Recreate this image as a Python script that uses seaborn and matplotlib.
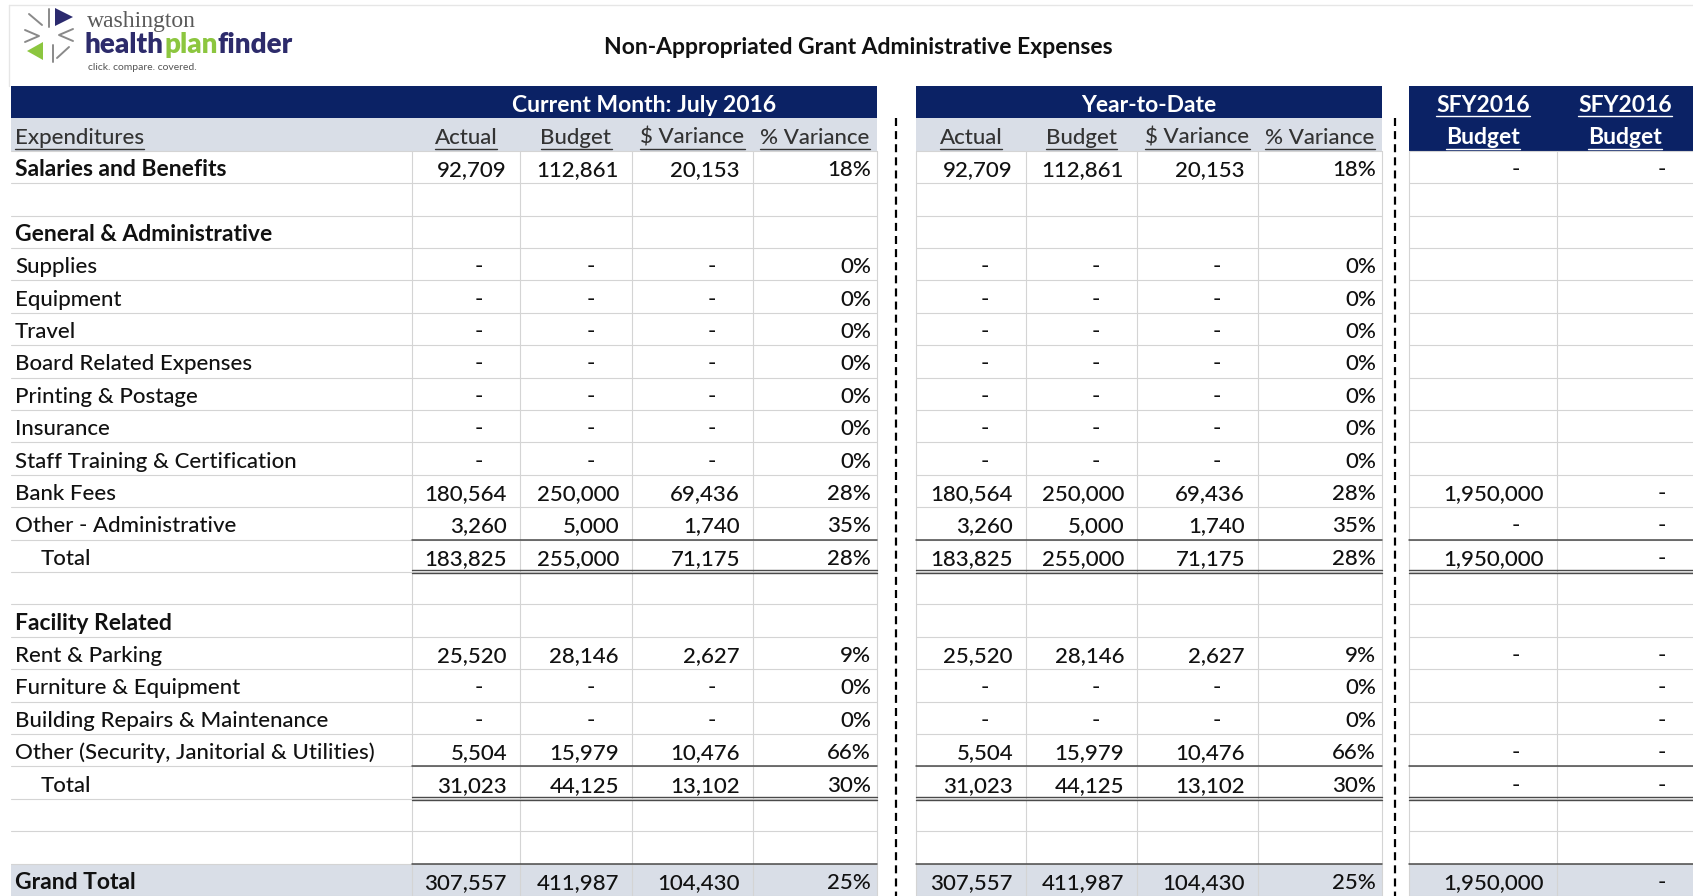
import numpy as np
import pandas as pd
import matplotlib
matplotlib.use("Agg")
import matplotlib.pyplot as plt
from matplotlib.patches import Rectangle, Polygon
import seaborn as sns

# ---- data ----
row_labels = ["Salaries and Benefits", "", "General & Administrative", "Supplies", "Equipment",
              "Travel", "Board Related Expenses", "Printing & Postage", "Insurance",
              "Staff Training & Certification", "Bank Fees", "Other - Administrative", "Total", "",
              "Facility Related", "Rent & Parking", "Furniture & Equipment",
              "Building Repairs & Maintenance", "Other (Security, Janitorial & Utilities)", "Total",
              "", "", "Grand Total"]
bold_rows = [0, 2, 14, 22]
total_rows = [12, 19]
grand_row = 22

N = None
cm_actual = [92709, N, N, 0, 0, 0, 0, 0, 0, 0, 180564, 3260, 183825, N, N, 25520, 0, 0, 5504, 31023, N, N, 307557]
cm_budget = [112861, N, N, 0, 0, 0, 0, 0, 0, 0, 250000, 5000, 255000, N, N, 28146, 0, 0, 15979, 44125, N, N, 411987]
cm_dvar = [20153, N, N, 0, 0, 0, 0, 0, 0, 0, 69436, 1740, 71175, N, N, 2627, 0, 0, 10476, 13102, N, N, 104430]
cm_pvar = [18, N, N, 0, 0, 0, 0, 0, 0, 0, 28, 35, 28, N, N, 9, 0, 0, 66, 30, N, N, 25]

ytd_actual = [92709, N, N, 0, 0, 0, 0, 0, 0, 0, 180564, 3260, 183825, N, N, 25520, 0, 0, 5504, 31023, N, N, 307557]
ytd_budget = [112861, N, N, 0, 0, 0, 0, 0, 0, 0, 250000, 5000, 255000, N, N, 28146, 0, 0, 15979, 44125, N, N, 411987]
ytd_dvar = [20153, N, N, 0, 0, 0, 0, 0, 0, 0, 69436, 1740, 71175, N, N, 2627, 0, 0, 10476, 13102, N, N, 104430]
ytd_pvar = [18, N, N, 0, 0, 0, 0, 0, 0, 0, 28, 35, 28, N, N, 9, 0, 0, 66, 30, N, N, 25]

sfy_budget_1 = [0, N, N, N, N, N, N, N, N, N, 1950000, 0, 1950000, N, N, 0, N, N, 0, 0, N, N, 1950000]
sfy_budget_2 = [0, N, N, N, N, N, N, N, N, N, 0, 0, 0, N, N, 0, 0, 0, 0, 0, N, N, 0]

title = "Non-Appropriated Grant Administrative Expenses"
sub_headers = ["Actual", "Budget", "$ Variance", "% Variance"]

# ---- layout (pixels) ----
W, H = 1693, 896
NAVY = "#0b2265"
GREY_BG = "#d9dee7"
GRID = "#d4d4d4"
RULE = "#4a4a4a"
TXT = "#111111"
left_edge = 11
cm_edges = [412, 520, 632, 753, 877]
ytd_edges = [916, 1026, 1137, 1258, 1382]
sfy_edges = [1409, 1557, 1693]
dash_x = [896, 1395]
top = 86
rh = (H - top) / 25.0
dy = 3.0          # text sits a little below the geometric middle

sns.set_theme(style="white")
plt.rcParams["font.family"] = ["Lato", "DejaVu Sans"]
FS = 16
FSB = 16.5
REG = "medium"

fig = plt.figure(figsize=(W / 100, H / 100), dpi=100)
ax = fig.add_axes([0, 0, 1, 1])
ax.set_xlim(0, W)
ax.set_ylim(H, 0)
ax.axis("off")


def row_top(i):
    # i = 0 -> first data row (two header rows above)
    return top + (i + 2) * rh


def row_mid(i):
    return row_top(i) + rh / 2 + dy


def fmt_num(v):
    if v is None:
        return None
    return "-" if v == 0 else f"{v:,}"


def fmt_pct(v):
    if v is None:
        return None
    return f"{v}%"


underlines = []

# background bands
ax.add_patch(Rectangle((left_edge, top), cm_edges[-1] - left_edge, rh, color=NAVY, lw=0))
ax.add_patch(Rectangle((ytd_edges[0], top), ytd_edges[-1] - ytd_edges[0], rh, color=NAVY, lw=0))
ax.add_patch(Rectangle((sfy_edges[0], top), sfy_edges[-1] - sfy_edges[0], 2 * rh, color=NAVY, lw=0))
for y in [top + rh, row_top(grand_row)]:
    ax.add_patch(Rectangle((left_edge, y), cm_edges[-1] - left_edge, rh, color=GREY_BG, lw=0))
    ax.add_patch(Rectangle((ytd_edges[0], y), ytd_edges[-1] - ytd_edges[0], rh, color=GREY_BG, lw=0))
ax.add_patch(Rectangle((sfy_edges[0], row_top(grand_row)), sfy_edges[-1] - sfy_edges[0], rh,
                       color=GREY_BG, lw=0))

# faint sheet frame
ax.plot([9, W], [5, 5], color="#e6e6e6", lw=1)
ax.plot([9, 9], [5, top], color="#e6e6e6", lw=1)

# light grid
y0, y1 = row_top(0), H
for i in range(len(row_labels) + 1):
    y = row_top(i)
    ax.plot([left_edge, cm_edges[-1]], [y, y], color=GRID, lw=0.8, zorder=1)
    ax.plot([ytd_edges[0], ytd_edges[-1]], [y, y], color=GRID, lw=0.8, zorder=1)
    ax.plot([sfy_edges[0], sfy_edges[-1]], [y, y], color=GRID, lw=0.8, zorder=1)
for x in cm_edges + ytd_edges + sfy_edges[:-1]:
    ax.plot([x, x], [y0, y1], color=GRID, lw=0.8, zorder=1)

# dashed separators
for x in dash_x:
    ax.plot([x, x], [top + rh, H], color="black", lw=1.6, linestyle=(0, (3.6, 2.3)), zorder=3)

# title
ax.text(858, 48, title, ha="center", va="center", fontsize=16.5, fontweight="bold", color=TXT)

# header texts
ax.text((cm_edges[0] + cm_edges[-1]) / 2, top + rh / 2 + dy, "Current Month: July 2016", ha="center",
        va="center", fontsize=FSB, fontweight="bold", color="white")
ax.text((ytd_edges[0] + ytd_edges[-1]) / 2, top + rh / 2 + dy, "Year-to-Date", ha="center",
        va="center", fontsize=FSB, fontweight="bold", color="white")
t = ax.text(15, top + 1.5 * rh + dy, "Expenditures", ha="left", va="center", fontsize=FS,
            fontweight=REG, color="#333333")
underlines.append((t, "#333333"))
for edges in [cm_edges, ytd_edges]:
    for k, lab in enumerate(sub_headers):
        t = ax.text((edges[k] + edges[k + 1]) / 2, top + 1.5 * rh + dy, lab, ha="center", va="center",
                    fontsize=FS, fontweight=REG, color="#333333")
        underlines.append((t, "#333333"))
for k in range(2):
    cx = (sfy_edges[k] + sfy_edges[k + 1]) / 2
    t = ax.text(cx, top + rh / 2 + dy, "SFY2016", ha="center", va="center", fontsize=FSB,
                fontweight="bold", color="white")
    underlines.append((t, "white"))
    t = ax.text(cx, top + 1.5 * rh + dy, "Budget", ha="center", va="center", fontsize=FSB,
                fontweight="bold", color="white")
    underlines.append((t, "white"))

# row labels
for i, lab in enumerate(row_labels):
    if not lab:
        continue
    x = 41 if i in total_rows else 15
    if i in bold_rows:
        ax.text(x, row_mid(i), lab, ha="left", va="center", fontsize=FSB, fontweight="bold", color=TXT)
    else:
        ax.text(x, row_mid(i), lab, ha="left", va="center", fontsize=FS, fontweight=REG, color=TXT)


def put_column(values, x_left, x_right, pct=False):
    for i, v in enumerate(values):
        s = fmt_pct(v) if pct else fmt_num(v)
        if s is None:
            continue
        if s == "-":
            ax.text(x_right - 41, row_mid(i), s, ha="center", va="center", fontsize=FS,
                    fontweight=REG, color=TXT)
        else:
            pad = 6 if pct else 13
            ax.text(x_right - pad, row_mid(i), s, ha="right", va="center", fontsize=FS,
                    fontweight=REG, color=TXT)


for edges, cols in [(cm_edges, [cm_actual, cm_budget, cm_dvar, cm_pvar]),
                    (ytd_edges, [ytd_actual, ytd_budget, ytd_dvar, ytd_pvar])]:
    for k, col in enumerate(cols):
        put_column(col, edges[k], edges[k + 1], pct=(k == 3))
put_column(sfy_budget_1, sfy_edges[0], sfy_edges[1])
put_column(sfy_budget_2, sfy_edges[1], sfy_edges[2] + 10)

# rules around the totals
segments = [(cm_edges[0], cm_edges[-1]), (ytd_edges[0], ytd_edges[-1]), (sfy_edges[0], sfy_edges[-1])]
for i in total_rows:
    for a, b in segments:
        ax.plot([a, b], [row_top(i), row_top(i)], color=RULE, lw=1.1, zorder=2)
        yb = row_top(i + 1)
        ax.plot([a, b], [yb - 1.5, yb - 1.5], color=RULE, lw=1.0, zorder=2)
        ax.plot([a, b], [yb + 1.5, yb + 1.5], color=RULE, lw=1.0, zorder=2)
for a, b in segments:
    ax.plot([a, b], [row_top(grand_row), row_top(grand_row)], color=RULE, lw=1.1, zorder=2)

# logo
ax.add_patch(Polygon([(55, 8), (55, 26), (73, 17)], closed=True, color="#2b2a6e", lw=0))
ax.add_patch(Polygon([(43, 42), (43, 60), (27, 51)], closed=True, color="#8cc63f", lw=0))
gl = dict(color="#8a8a8a", lw=1.4, solid_capstyle="round")
ax.plot([49, 49], [9, 27], **gl)
ax.plot([29, 42], [14, 25], **gl)
ax.plot([25, 39, 25], [30, 36, 42], **gl)
ax.plot([73, 59, 73], [29, 35, 41], **gl)
ax.plot([53, 53], [45, 62], **gl)
ax.plot([57, 69], [58, 47], **gl)
ax.text(87, 22, "washington", ha="left", va="center", fontsize=17, color="#5a5a5a",
        family=["Liberation Serif", "DejaVu Serif"])
ax.text(88, 68, "click. compare. covered.", ha="left", va="center", fontsize=7.5, color="#555555")

logo_parts = [("health", "#2d2b6b"), ("plan", "#8cc63f"), ("finder", "#2d2b6b")]

fig.canvas.draw()
renderer = fig.canvas.get_renderer()
inv = ax.transData.inverted()

x_cur = 85
for word, col in logo_parts:
    t = ax.text(x_cur, 45, word, ha="left", va="center", fontsize=20, fontweight="heavy", color=col)
    bb = t.get_window_extent(renderer)
    (xa, _), (xb, _) = inv.transform([[bb.x0, bb.y0], [bb.x1, bb.y1]])
    x_cur = x_cur + (xb - xa)

for t, col in underlines:
    bb = t.get_window_extent(renderer)
    (xa, _), (xb, _) = inv.transform([[bb.x0, bb.y0], [bb.x1, bb.y1]])
    y = t.get_position()[1] + 11
    ax.plot([xa, xb], [y, y], color=col, lw=1.0, zorder=4)

fig.savefig("out.png", dpi=100)
